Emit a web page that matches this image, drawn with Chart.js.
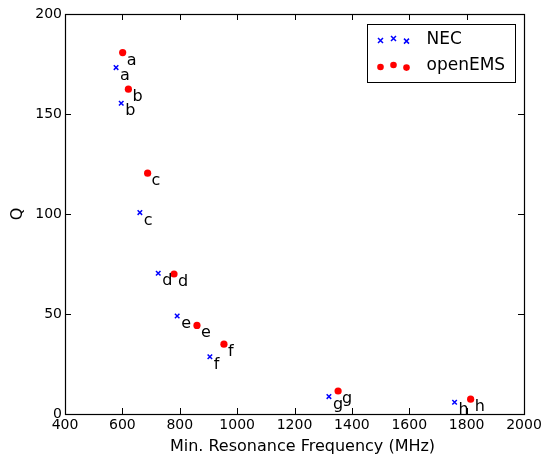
<!DOCTYPE html>
<html>
<head>
<meta charset="utf-8">
<script src="https://cdn.jsdelivr.net/npm/chart.js@4/dist/chart.umd.min.js"></script>
<style>
  html, body { margin: 0; padding: 0; background: #fff; }
  #wrap { width: 545px; height: 457px; }
</style>
</head>
<body>
<div id="wrap"><canvas id="myChart" width="545" height="457"></canvas></div>
<script>
// values
const pointLabels = ['a', 'b', 'c', 'd', 'e', 'f', 'g', 'h'];
const necFreq = [578, 596, 661, 725, 791, 905, 1320, 1758];
const necQ = [173.2, 155.4, 100.7, 70.4, 49.0, 28.6, 8.7, 5.9];
const emsFreq = [601, 621, 688, 780, 860, 954, 1352, 1814];
const emsQ = [180.7, 162.4, 120.4, 70.0, 44.3, 34.9, 11.5, 7.4];
const xTicks = [400, 600, 800, 1000, 1200, 1400, 1600, 1800, 2000];
const yTicks = [0, 50, 100, 150, 200];

const FONT = 'DejaVu Sans';

function toPoints(xs, ys) {
  return xs.map((x, i) => ({ x: x, y: ys[i] }));
}

// box around the plot, with ticks pointing inward on all four sides
const framePlugin = {
  id: 'frame',
  afterDatasetsDraw(chart) {
    const { ctx, chartArea: a, scales } = chart;
    const len = 6;
    ctx.save();
    ctx.strokeStyle = '#000';
    ctx.lineWidth = 1;
    ctx.beginPath();
    xTicks.forEach(v => {
      const px = Math.round(scales.x.getPixelForValue(v)) + 0.5;
      ctx.moveTo(px, a.bottom); ctx.lineTo(px, a.bottom - len);
      ctx.moveTo(px, a.top); ctx.lineTo(px, a.top + len);
    });
    yTicks.forEach(v => {
      const py = Math.round(scales.y.getPixelForValue(v)) + 0.5;
      ctx.moveTo(a.left, py); ctx.lineTo(a.left + len, py);
      ctx.moveTo(a.right, py); ctx.lineTo(a.right - len, py);
    });
    ctx.stroke();
    ctx.lineWidth = 1.2;
    ctx.strokeRect(Math.round(a.left) + 0.5, Math.round(a.top) + 0.5,
      Math.round(a.right - a.left), Math.round(a.bottom - a.top));

    // x axis title, sitting a little right of centre as in the original
    ctx.fillStyle = '#000';
    ctx.font = '16px "' + FONT + '"';
    ctx.textAlign = 'center';
    ctx.textBaseline = 'middle';
    ctx.fillText('Min. Resonance Frequency (MHz)', (a.left + a.right) / 2 + 8, 447);
    ctx.restore();
  }
};

// letters next to each marker
const letterPlugin = {
  id: 'letters',
  afterDatasetsDraw(chart) {
    const ctx = chart.ctx;
    ctx.save();
    ctx.fillStyle = '#000';
    ctx.font = '16px "' + FONT + '"';
    ctx.textAlign = 'left';
    ctx.textBaseline = 'alphabetic';
    chart.data.datasets.forEach((ds, di) => {
      chart.getDatasetMeta(di).data.forEach((el, i) => {
        ctx.fillText(pointLabels[i], el.x + 4, el.y + 12);
      });
    });
    ctx.restore();
  }
};

// matplotlib style legend with three markers per entry
const boxLegend = {
  id: 'boxLegend',
  afterDraw(chart) {
    const { ctx, chartArea: a } = chart;
    const w = 148, h = 58;
    const x0 = Math.round(a.right - 9 - w) + 0.5;
    const y0 = Math.round(a.top + 10) + 0.5;
    ctx.save();
    ctx.fillStyle = '#fff';
    ctx.fillRect(x0, y0, w, h);
    ctx.strokeStyle = '#000';
    ctx.lineWidth = 1;
    ctx.strokeRect(x0, y0, w, h);
    const dy = [1, -1, 1.6];
    chart.data.datasets.forEach((ds, di) => {
      const cy = y0 + 15 + di * 26.5;
      [13, 26, 39].forEach((dx, k) => {
        const mx = x0 + dx, my = cy + dy[k];
        if (ds.pointStyle === 'crossRot') {
          const r = 2.5;
          ctx.strokeStyle = ds.borderColor;
          ctx.lineWidth = 1.5;
          ctx.beginPath();
          ctx.moveTo(mx - r, my - r); ctx.lineTo(mx + r, my + r);
          ctx.moveTo(mx - r, my + r); ctx.lineTo(mx + r, my - r);
          ctx.stroke();
        } else {
          ctx.fillStyle = ds.backgroundColor;
          ctx.beginPath();
          ctx.arc(mx, my, 3.3, 0, Math.PI * 2);
          ctx.fill();
        }
      });
      ctx.fillStyle = '#000';
      ctx.font = '17px "' + FONT + '"';
      ctx.textAlign = 'left';
      ctx.textBaseline = 'middle';
      ctx.fillText(ds.label, x0 + 59, cy);
    });
    ctx.restore();
  }
};

const ctx = document.getElementById('myChart').getContext('2d');
const qChart = new Chart(ctx, {
  type: 'scatter',
  data: {
    datasets: [{
      label: 'NEC',
      data: toPoints(necFreq, necQ),
      pointStyle: 'crossRot',
      pointRadius: 3.2,
      borderColor: '#0000ff',
      backgroundColor: '#0000ff',
      borderWidth: 1.5
    }, {
      label: 'openEMS',
      data: toPoints(emsFreq, emsQ),
      pointStyle: 'circle',
      pointRadius: 3.6,
      borderWidth: 0,
      borderColor: '#ff0000',
      backgroundColor: '#ff0000'
    }]
  },
  options: {
    responsive: false,
    animation: false,
    layout: { padding: { top: 14, right: 21, left: 0, bottom: 0 } },
    plugins: {
      legend: { display: false },
      tooltip: { enabled: false }
    },
    scales: {
      x: {
        type: 'linear',
        min: 400,
        max: 2000,
        afterFit: s => { s.height = 43; },
        afterBuildTicks: s => { s.ticks = xTicks.map(v => ({ value: v })); },
        grid: { display: false, drawTicks: false, tickLength: 0 },
        border: { display: false },
        ticks: {
          autoSkip: false,
          maxRotation: 0,
          padding: 3,
          color: '#000',
          font: { family: FONT, size: 14 },
          callback: v => String(v)
        },
        title: { display: false }
      },
      y: {
        min: 0,
        max: 200,
        afterFit: s => { s.width = 65; },
        afterBuildTicks: s => { s.ticks = yTicks.map(v => ({ value: v })); },
        grid: { display: false, drawTicks: false, tickLength: 0 },
        border: { display: false },
        ticks: {
          autoSkip: false,
          padding: 3,
          color: '#000',
          font: { family: FONT, size: 14 },
          callback: v => String(v)
        },
        title: {
          display: true,
          text: 'Q',
          color: '#000',
          padding: { top: 8, bottom: 0 },
          font: { family: FONT, size: 16 }
        }
      }
    }
  },
  plugins: [framePlugin, letterPlugin, boxLegend]
});
</script>
</body>
</html>
